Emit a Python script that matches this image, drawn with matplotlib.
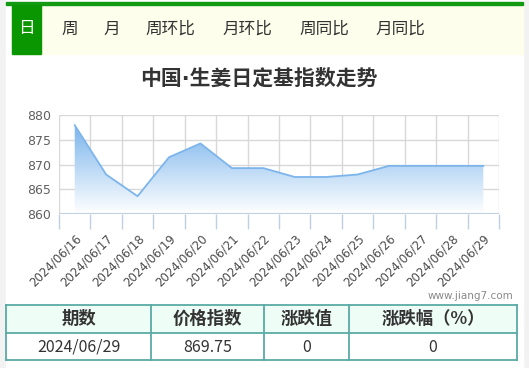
import matplotlib
matplotlib.use("Agg")
import matplotlib.pyplot as plt
from matplotlib.patches import Rectangle, Polygon
from matplotlib.colors import LinearSegmentedColormap
import numpy as np

plt.rcParams['font.family'] = ['Noto Sans CJK SC', 'DejaVu Sans']

# ---- data ----
dates = ["2024/06/16", "2024/06/17", "2024/06/18", "2024/06/19", "2024/06/20",
         "2024/06/21", "2024/06/22", "2024/06/23", "2024/06/24", "2024/06/25",
         "2024/06/26", "2024/06/27", "2024/06/28", "2024/06/29"]
values = [878.0, 868.0, 863.6, 871.5, 874.3, 869.3, 869.3, 867.5, 867.5, 868.0,
          869.75, 869.75, 869.75, 869.75]
yticks = [860, 865, 870, 875, 880]

tabs = ["日", "周", "月", "周环比", "月环比", "周同比", "月同比"]
tab_x = [26, 70, 112, 170, 247, 324, 400]

title = "中国·生姜日定基指数走势"
table_head = ["期数", "价格指数", "涨跌值", "涨跌幅（%）"]
table_row = ["2024/06/29", "869.75", "0", "0"]
col_edges = [6, 151, 264, 349, 517]

W, H = 529, 368
fig = plt.figure(figsize=(W / 100, H / 100), dpi=100)
fig.patch.set_facecolor("#f2f2f2")

# background layer in pixel coordinates
bg = fig.add_axes([0, 0, 1, 1])
bg.set_xlim(0, W)
bg.set_ylim(H, 0)
bg.axis("off")

bg.add_patch(Rectangle((6, 0), 517, H, color="white", zorder=0))
bg.add_patch(Rectangle((12, 4), 511, 50, color="#fefeec", zorder=1))
bg.add_patch(Rectangle((6, 2), 517, 3, color="#129a12", zorder=2))
bg.add_patch(Rectangle((12, 5), 29, 49, color="#0a9600", zorder=2))
for i, t in enumerate(tabs):
    bg.text(tab_x[i], 29, t, ha="center", va="center", fontsize=12,
            color="white" if i == 0 else "#333333", zorder=3)

# DejaVu first so the middle dot stays narrow
bg.text(259, 79, title, ha="center", va="center", fontsize=15,
        fontweight="bold", color="#333333",
        family=["DejaVu Sans", "Noto Sans CJK SC"])
bg.text(470, 296, "www.jiang7.com", ha="center", va="center", fontsize=7.5,
        color="#888888", family="DejaVu Sans")

# table
bg.add_patch(Rectangle((6, 305), 511, 28, facecolor="#effdf7",
                       edgecolor="none", zorder=1))
for yy in [305, 333, 360]:
    bg.plot([6, 517], [yy, yy], color="#5aaaa5", lw=1.3, zorder=2)
for xx in col_edges:
    bg.plot([xx, xx], [305, 360], color="#5aaaa5", lw=1.3, zorder=2)
for i in range(4):
    cx = (col_edges[i] + col_edges[i + 1]) / 2
    bg.text(cx, 319, table_head[i], ha="center", va="center", fontsize=12.5,
            fontweight="bold", color="#333333", zorder=3)
    bg.text(cx, 347, table_row[i], ha="center", va="center", fontsize=11.5,
            color="#333333", zorder=3)

# chart
left, right, top, bottom = 59, 499, 115.3, 214
ax = fig.add_axes([left / W, 1 - bottom / H, (right - left) / W, (bottom - top) / H])
ax.set_facecolor("none")
n = len(dates)
x = np.arange(n)
ax.set_xlim(-0.5, n - 0.5)
ax.set_ylim(860, 880)

# gradient fill under the line
grad = np.linspace(0, 1, 256).reshape(-1, 1)
cmap = LinearSegmentedColormap.from_list("g", ["#ffffff", "#7cb5ec"])
img = ax.imshow(grad, extent=[-0.5, n - 0.5, 860, max(values)], origin="lower",
                aspect="auto", cmap=cmap, vmin=0, vmax=1.0, zorder=1)
poly = Polygon(list(zip(x, values)) + [(x[-1], 860), (x[0], 860)],
               closed=True, transform=ax.transData, facecolor="none", edgecolor="none")
ax.add_patch(poly)
img.set_clip_path(poly)
ax.plot(x, values, color="#7cb5ec", lw=1.3, zorder=3)

for v in yticks:
    ax.axhline(v, color="#d8d8d8", lw=1, zorder=0)
for b in np.arange(-0.5, n, 1):
    ax.axvline(b, color="#d8d8d8", lw=1, zorder=0)
ax.axhline(860, color="#c0d0e0", lw=1.5, zorder=2)

for s in ax.spines.values():
    s.set_visible(False)
ax.set_yticks(yticks)
ax.set_yticklabels([str(v) for v in yticks], fontsize=9, color="#606060",
                   family="DejaVu Sans")
ax.tick_params(axis="y", length=0, pad=6)
ax.set_xticks(np.arange(-0.5, n, 1), minor=False)
ax.set_xticklabels([""] * (n + 1))
ax.tick_params(axis="x", length=11, color="#c0d0e0", width=1, direction="out")
ax.set_xticks(x, minor=True)
ax.set_xticklabels(dates, minor=True, rotation=45, ha="right",
                   rotation_mode="anchor", fontsize=8.5, color="#4a4a4a",
                   family="DejaVu Sans")
ax.tick_params(axis="x", which="minor", length=0, pad=13)

fig.savefig("out.png", dpi=100, facecolor=fig.get_facecolor())
